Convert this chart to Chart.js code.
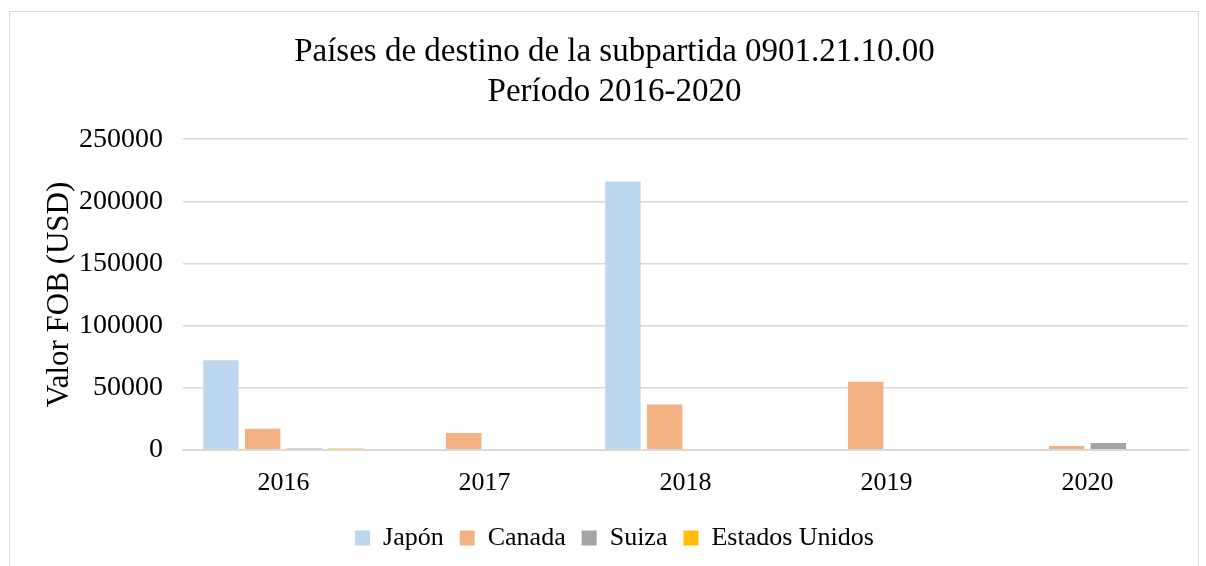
<!DOCTYPE html>
<html>
<head>
<meta charset="utf-8">
<script src="https://cdn.jsdelivr.net/npm/chart.js@4"></script>
<style>
  body { margin: 0; background: #fff; }
  #wrap { position: absolute; left: 9px; top: 11px; width: 1190px; height: 570px; border: 1px solid #d9dde3; box-sizing: border-box; }
  #box { position: absolute; left: 0; top: 0; width: 1206px; height: 566px; }
</style>
</head>
<body>
<div id="wrap"></div>
<div id="box"><canvas id="grafico"></canvas></div>
<script>
var ctx = document.getElementById('grafico').getContext('2d');
/* Países de destino 0901.21.10.00 */
const years = ['2016', '2017', '2018', '2019', '2020'];
const japon = [72000, 0, 216000, 0, 0];
const canada = [17000, 13500, 36500, 54700, 3000];
const suiza = [1000, 0, 0, 0, 5500];
const estadosUnidos = [1000, 0, 0, 0, 0];

Chart.defaults.font.family = '"Liberation Serif", "Times New Roman", serif';
Chart.defaults.color = '#000';

var myChart = new Chart(ctx, {
    type: 'bar',
    data: {
        labels: years,
        datasets: [
            { label: 'Japón', data: japon, backgroundColor: '#bdd7ee' },
            { label: 'Canada', data: canada, backgroundColor: '#f4b183' },
            { label: 'Suiza', data: suiza, backgroundColor: '#a5a5a5' },
            { label: 'Estados Unidos', data: estadosUnidos, backgroundColor: '#ffc000' }
        ]
    },
    options: {
        responsive: true,
        maintainAspectRatio: false,
        animation: false,
        categoryPercentage: 0.83,
        barPercentage: 0.85,
        layout: { padding: { left: 41, right: 18, top: 12, bottom: 5 } },
        plugins: {
            title: {
                display: true,
                text: ['Países de destino de la subpartida 0901.21.10.00', 'Período 2016-2020'],
                font: { size: 33, weight: 'normal', lineHeight: 1.2 },
                color: '#000',
                padding: { top: 21, bottom: 27 }
            },
            legend: {
                position: 'bottom',
                labels: { font: { size: 26 }, boxWidth: 15, boxHeight: 15, padding: 16 }
            },
            tooltip: { enabled: false }
        },
        scales: {
            x: {
                grid: { display: false },
                border: { color: '#d9d9d9', width: 2 },
                ticks: { font: { size: 26 }, padding: 10 }
            },
            y: {
                min: 0,
                max: 250000,
                afterFit: function (s) { s.width = 142; },
                ticks: {
                    stepSize: 50000,
                    font: { size: 28 },
                    padding: 20,
                    callback: function (v) { return String(v); }
                },
                grid: { color: '#d9d9d9', lineWidth: 1.5, drawTicks: false },
                border: { display: false },
                title: { display: true, text: 'Valor FOB (USD)', font: { size: 31 }, padding: { top: 0, bottom: 2 } }
            }
        }
    }
});
</script>
</body>
</html>
